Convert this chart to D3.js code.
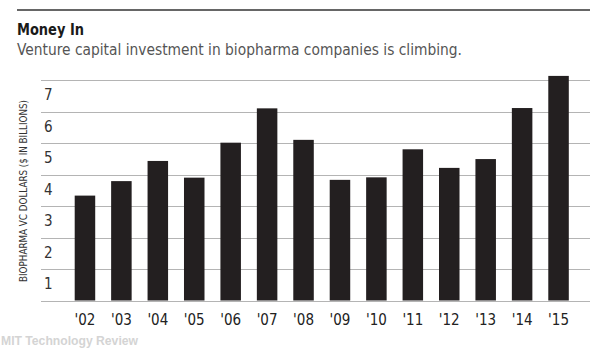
<!DOCTYPE html>
<html>
<head>
<meta charset="utf-8">
<script src="https://cdn.jsdelivr.net/npm/d3@7"></script>
<style>
  html, body { margin: 0; padding: 0; background: #fff; }
  svg { display: block; }
</style>
</head>
<body>
<svg id="chart" width="602" height="349"></svg>
<script>
const years = ["'02","'03","'04","'05","'06","'07","'08","'09","'10","'11","'12","'13","'14","'15"];
const values = [3.33, 3.79, 4.43, 3.90, 5.01, 6.10, 5.10, 3.83, 3.91, 4.80, 4.21, 4.49, 6.11, 7.13];
const yTicks = [1, 2, 3, 4, 5, 6, 7];
const titleText = "Money In";
const subtitleText = "Venture capital investment in biopharma companies is climbing.";
const yAxisTitle = "BIOPHARMA VC DOLLARS ($ IN BILLIONS)";
const sourceText = "MIT Technology Review";

const svg = d3.select("#chart");
const narrow = "'Liberation Sans Narrow', 'DejaVu Sans Condensed', 'Liberation Sans', sans-serif";

const x = d3.scaleBand().domain(years).range([74.7, 568.8]).paddingInner(0.437).paddingOuter(0);
const y = d3.scaleLinear().domain([0, 7]).range([300.5, 80]);

// top rule
svg.append("line").attr("x1", 17).attr("x2", 590).attr("y1", 10).attr("y2", 10)
  .attr("stroke", "#333").attr("stroke-width", 1.5);

svg.append("text").attr("x", 17).attr("y", 35)
  .attr("font-family", narrow).attr("font-weight", "bold").attr("font-size", 16)
  .attr("fill", "#1a1a1a").attr("textLength", 67).attr("lengthAdjust", "spacingAndGlyphs")
  .text(titleText);

svg.append("text").attr("x", 17).attr("y", 55)
  .attr("font-family", narrow).attr("font-size", 16.5)
  .attr("fill", "#555").attr("textLength", 445).attr("lengthAdjust", "spacingAndGlyphs")
  .text(subtitleText);

// gridlines (including baseline at 0)
svg.append("g").selectAll("line").data([0].concat(yTicks)).join("line")
  .attr("x1", 41).attr("x2", 590)
  .attr("y1", d => Math.round(y(d)) + 0.5).attr("y2", d => Math.round(y(d)) + 0.5)
  .attr("stroke", "#b4b4b4").attr("stroke-width", 1);

// y tick labels (sit just below their gridline)
svg.append("g").selectAll("text").data(yTicks).join("text")
  .attr("x", 44).attr("y", d => y(d) + 20)
  .attr("font-family", narrow).attr("font-size", 15).attr("fill", "#333")
  .text(d => d);

// y axis title
svg.append("text")
  .attr("transform", "translate(26.5,191) rotate(-90)")
  .attr("text-anchor", "middle")
  .attr("font-family", narrow).attr("font-size", 10).attr("fill", "#333")
  .attr("textLength", 182).attr("lengthAdjust", "spacingAndGlyphs")
  .text(yAxisTitle);

// bars
svg.append("g").selectAll("rect").data(values).join("rect")
  .attr("x", (d, i) => x(years[i]))
  .attr("width", x.bandwidth())
  .attr("y", d => y(d))
  .attr("height", d => y(0) - y(d))
  .attr("fill", "#231f20");

// x labels
svg.append("g").selectAll("text").data(years).join("text")
  .attr("x", d => x(d) + x.bandwidth() / 2)
  .attr("y", 325)
  .attr("text-anchor", "middle")
  .attr("font-family", narrow).attr("font-size", 15).attr("fill", "#222")
  .text(d => d);

// source watermark
svg.append("text").attr("x", 1).attr("y", 345)
  .attr("font-family", "'Liberation Sans', Arial, sans-serif").attr("font-weight", "bold")
  .attr("font-size", 12).attr("fill", "#d4d4d4")
  .attr("textLength", 137).attr("lengthAdjust", "spacingAndGlyphs")
  .text(sourceText);
</script>
</body>
</html>
